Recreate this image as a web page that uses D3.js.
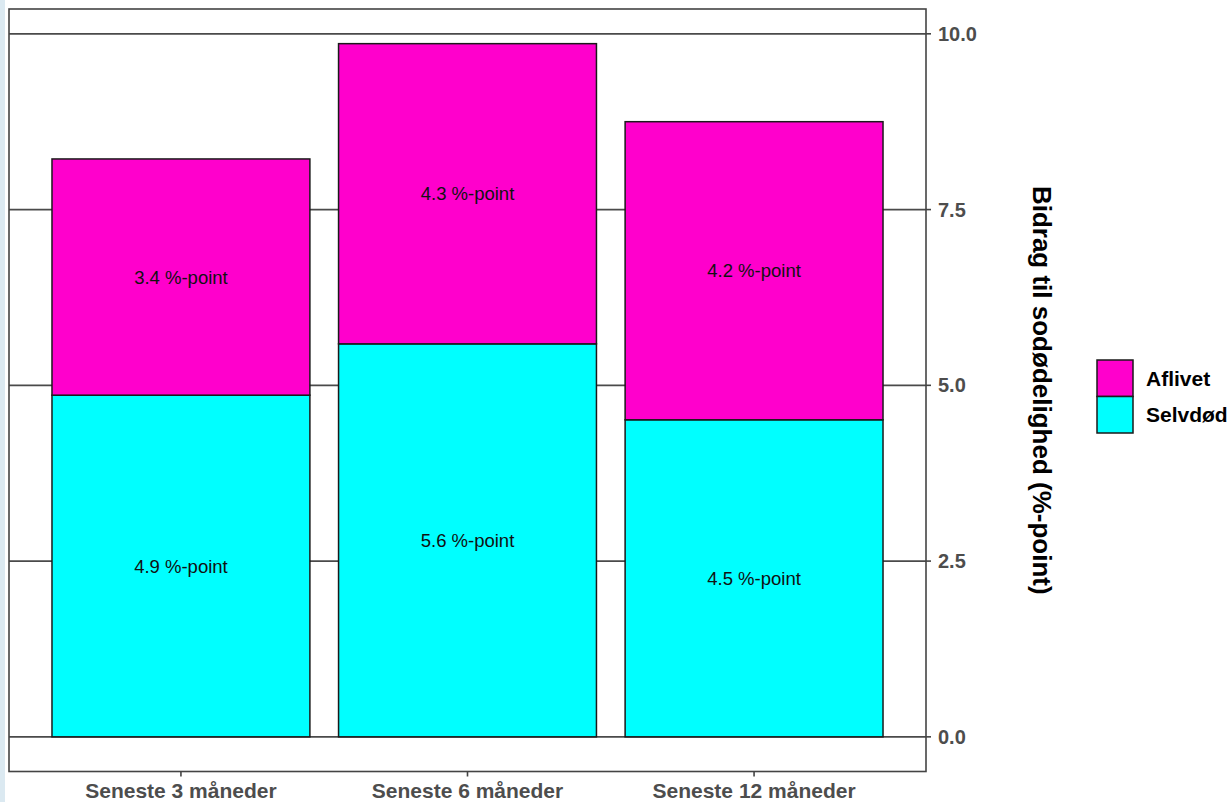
<!DOCTYPE html>
<html>
<head>
<meta charset="utf-8">
<script src="https://cdn.jsdelivr.net/npm/d3@7"></script>
<style>
  html, body { margin: 0; padding: 0; background: #fff; }
  svg { display: block; font-family: "Liberation Sans", Arial, Helvetica, sans-serif; }
</style>
</head>
<body>
<svg id="chart" width="1232" height="802"></svg>
<script>
// ---- data ----
const categories = ["Seneste 3 måneder", "Seneste 6 måneder", "Seneste 12 måneder"];
const seriesNames = ["Selvdød", "Aflivet"];           // stacking order, bottom to top
const selvdod = [4.86, 5.59, 4.51];
const aflivet = [3.36, 4.27, 4.24];
const yTicks = [0, 2.5, 5, 7.5, 10];
const legendOrder = ["Aflivet", "Selvdød"];
const colors = { "Aflivet": "#ff00cc", "Selvdød": "#00ffff" };
const yTitle = "Bidrag til sodødelighed (%-point)";

// ---- layout ----
const svg = d3.select("#chart");
const panel = { left: 9, right: 926, top: 9, bottom: 771.5 };

svg.append("rect").attr("x", 0).attr("y", 0).attr("width", 5).attr("height", 802).attr("fill", "#dbe9f1");

const rows = categories.map((c, i) => ({ cat: c, "Selvdød": selvdod[i], "Aflivet": aflivet[i] }));
const stack = d3.stack().keys(seriesNames)(rows);
const maxTotal = d3.max(rows, d => d["Selvdød"] + d["Aflivet"]);

// discrete x scale with ggplot-like 0.6 expansion and bar width 0.9
const xPos = d3.scaleLinear()
  .domain([0.4, categories.length + 0.6])
  .range([panel.left, panel.right]);
const cx = i => xPos(i + 1);
const barW = xPos(1.9) - xPos(1);

const y = d3.scaleLinear()
  .domain([-0.05 * maxTotal, 1.05 * maxTotal])
  .range([panel.bottom, panel.top]);

// grid lines
svg.append("g").selectAll("line").data(yTicks).join("line")
  .attr("x1", panel.left).attr("x2", panel.right)
  .attr("y1", d => y(d)).attr("y2", d => y(d))
  .attr("stroke", "#4a4a4a").attr("stroke-width", 1.7);

// bars
const gBars = svg.append("g");
stack.forEach(layer => {
  const key = layer.key;
  gBars.append("g").selectAll("rect").data(layer).join("rect")
    .attr("x", (d, i) => cx(i) - barW / 2)
    .attr("width", barW)
    .attr("y", d => y(d[1]))
    .attr("height", d => y(d[0]) - y(d[1]))
    .attr("fill", colors[key])
    .attr("stroke", "#1a1a1a").attr("stroke-width", 1.5);
});
// bar labels
stack.forEach(layer => {
  gBars.append("g").selectAll("text").data(layer).join("text")
    .attr("x", (d, i) => cx(i))
    .attr("y", d => y((d[0] + d[1]) / 2))
    .attr("text-anchor", "middle")
    .attr("dominant-baseline", "central")
    .attr("font-size", 18.5)
    .attr("fill", "#111")
    .text(d => (d[1] - d[0]).toFixed(1) + " %-point");
});

// panel border
svg.append("rect")
  .attr("x", panel.left).attr("y", panel.top)
  .attr("width", panel.right - panel.left).attr("height", panel.bottom - panel.top)
  .attr("fill", "none").attr("stroke", "#444").attr("stroke-width", 1.6);

// right y axis
const yAxis = svg.append("g");
yAxis.selectAll("line").data(yTicks).join("line")
  .attr("x1", panel.right).attr("x2", panel.right + 5)
  .attr("y1", d => y(d)).attr("y2", d => y(d))
  .attr("stroke", "#444").attr("stroke-width", 1.6);
yAxis.selectAll("text").data(yTicks).join("text")
  .attr("x", panel.right + 12)
  .attr("y", d => y(d))
  .attr("dominant-baseline", "central")
  .attr("font-size", 20).attr("font-weight", "bold")
  .attr("fill", "#4d4d4d")
  .text(d => d3.format(".1f")(d));

// x axis
const xAxis = svg.append("g");
xAxis.selectAll("line").data(categories).join("line")
  .attr("x1", (d, i) => cx(i)).attr("x2", (d, i) => cx(i))
  .attr("y1", panel.bottom).attr("y2", panel.bottom + 5)
  .attr("stroke", "#444").attr("stroke-width", 1.6);
xAxis.selectAll("text").data(categories).join("text")
  .attr("x", (d, i) => cx(i))
  .attr("y", 798)
  .attr("text-anchor", "middle")
  .attr("font-size", 21).attr("font-weight", "bold")
  .attr("fill", "#4d4d4d")
  .text(d => d);

// y title (right side, rotated)
svg.append("text")
  .attr("transform", "translate(1042," + ((panel.top + panel.bottom) / 2) + ") rotate(90)")
  .attr("text-anchor", "middle")
  .attr("dominant-baseline", "central")
  .attr("font-size", 26).attr("font-weight", "bold")
  .attr("fill", "#000")
  .text(yTitle);

// legend
const legend = svg.append("g");
const keyH = 36.5;
legendOrder.forEach((name, i) => {
  const top = 360 + i * keyH;
  legend.append("rect")
    .attr("x", 1097).attr("y", top).attr("width", 36).attr("height", keyH)
    .attr("fill", colors[name]).attr("stroke", "#1a1a1a").attr("stroke-width", 1.5);
  legend.append("text")
    .attr("x", 1146).attr("y", top + keyH / 2)
    .attr("dominant-baseline", "central")
    .attr("font-size", 21).attr("font-weight", "bold")
    .attr("fill", "#000")
    .text(name);
});
</script>
</body>
</html>
